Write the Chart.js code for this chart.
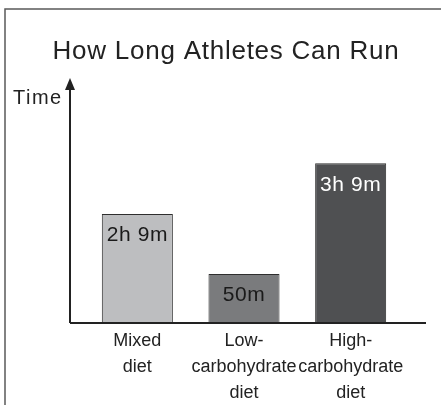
<!DOCTYPE html>
<html>
<head>
<meta charset="utf-8">
<script src="https://cdn.jsdelivr.net/npm/chart.js@4"></script>
<style>
  html, body { margin: 0; padding: 0; background: #fff; }
  canvas { display: block; }
</style>
</head>
<body>
<canvas id="runChart" width="441" height="405"></canvas>
<script>
// Data
const diets = [['Mixed', 'diet'], ['Low-', 'carbohydrate', 'diet'], ['High-', 'carbohydrate', 'diet']];
const runMinutes = [129, 58, 189];   // bar heights as drawn (the chart is not to scale)
const timeLabels = ['2h 9m', '50m', '3h 9m'];
const barColors = ['#bdbec0', '#7a7b7d', '#4f5052'];
const labelColors = ['#1a1a1a', '#1a1a1a', '#ffffff'];

const FONT = '"Liberation Sans", Arial, sans-serif';

// Frame, title, axis arrow and labels inside bars
const decorPlugin = {
  id: 'decor',
  beforeDraw(chart) {
    const ctx = chart.ctx;
    ctx.save();
    ctx.fillStyle = '#fff';
    ctx.fillRect(0, 0, chart.width, chart.height);
    // outer frame (top and left)
    ctx.strokeStyle = '#5a5a5a';
    ctx.lineWidth = 1.5;
    ctx.beginPath();
    ctx.moveTo(5, chart.height);
    ctx.lineTo(5, 9);
    ctx.lineTo(chart.width, 9);
    ctx.stroke();
    // title
    ctx.fillStyle = '#222';
    ctx.font = '26px ' + FONT;
    ctx.letterSpacing = '0.75px';
    ctx.textAlign = 'center';
    ctx.textBaseline = 'alphabetic';
    ctx.fillText('How Long Athletes Can Run', 226, 59);
    // axis title
    ctx.font = '20px ' + FONT;
    ctx.letterSpacing = '1.5px';
    ctx.textAlign = 'left';
    ctx.fillText('Time', 13, 104);
    ctx.restore();
  },
  afterDatasetsDraw(chart) {
    const ctx = chart.ctx;
    const area = chart.chartArea;
    const y0 = chart.scales.y.getPixelForValue(0);
    const axisX = area.left - 14;
    ctx.save();
    ctx.strokeStyle = '#222';
    ctx.fillStyle = '#222';
    ctx.lineWidth = 2;
    // baseline
    ctx.beginPath();
    ctx.moveTo(axisX, y0);
    ctx.lineTo(area.right + 22, y0);
    ctx.stroke();
    // vertical axis with arrow
    ctx.beginPath();
    ctx.moveTo(axisX, y0);
    ctx.lineTo(axisX, area.top + 10);
    ctx.stroke();
    ctx.beginPath();
    ctx.moveTo(axisX, area.top);
    ctx.lineTo(axisX - 5, area.top + 12);
    ctx.lineTo(axisX + 5, area.top + 12);
    ctx.closePath();
    ctx.fill();
    // labels inside bars
    ctx.font = '21px ' + FONT;
    ctx.letterSpacing = '0.6px';
    ctx.textAlign = 'center';
    ctx.textBaseline = 'middle';
    chart.getDatasetMeta(0).data.forEach((bar, i) => {
      ctx.fillStyle = labelColors[i];
      ctx.fillText(timeLabels[i], bar.x, bar.y + 21.5);
    });
    ctx.restore();
  }
};

new Chart(document.getElementById('runChart'), {
  type: 'bar',
  data: {
    labels: diets,
    datasets: [{
      data: runMinutes,
      backgroundColor: barColors,
      borderColor: '#2e2e2e',
      borderWidth: 1,
      barPercentage: 0.666,
      categoryPercentage: 1
    }]
  },
  options: {
    responsive: false,
    devicePixelRatio: 1,
    animation: false,
    layout: { padding: { left: 84, right: 37, top: 78, bottom: -6 } },
    plugins: {
      legend: { display: false },
      title: { display: false },
      tooltip: { enabled: false }
    },
    scales: {
      x: {
        grid: { display: false, drawTicks: false },
        border: { display: false },
        ticks: {
          color: '#222',
          padding: 5,
          maxRotation: 0,
          autoSkip: false,
          font: { family: FONT, size: 18, lineHeight: 1.444 }
        }
      },
      y: {
        display: false,
        min: 0,
        max: 290
      }
    }
  },
  plugins: [decorPlugin]
});
</script>
</body>
</html>
